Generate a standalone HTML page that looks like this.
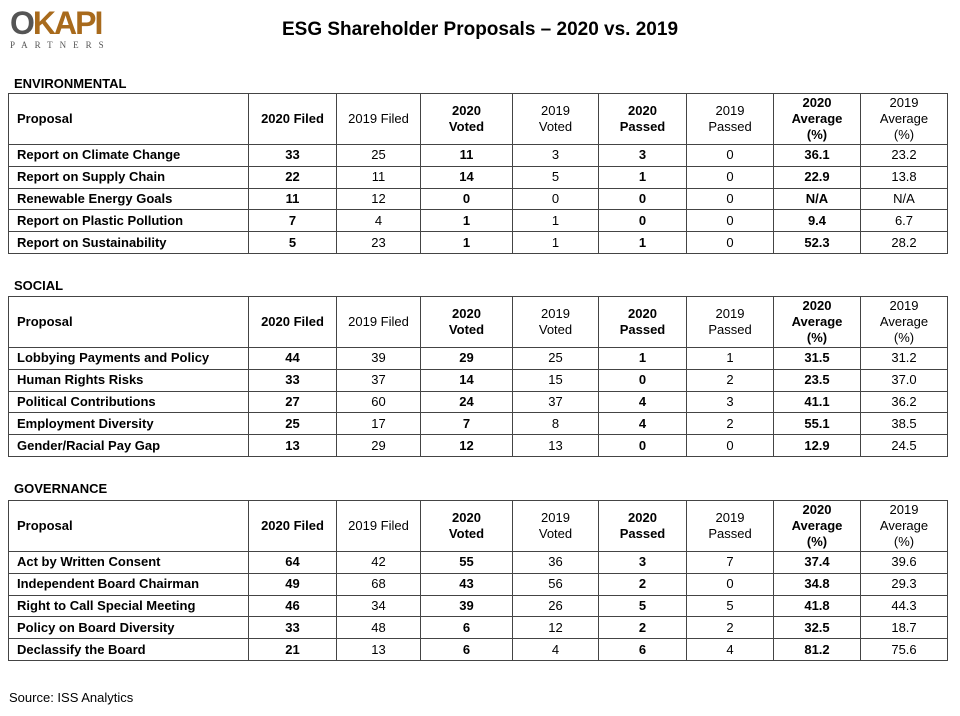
<!DOCTYPE html>
<html><head><meta charset="utf-8"><style>
body{margin:0;width:960px;height:716px;background:#fff;font-family:"Liberation Sans",Arial,sans-serif;color:#000;position:relative;overflow:hidden}
.t{position:absolute;left:8px;border-collapse:collapse;table-layout:fixed;width:939px;font-size:13px}
.t td{border:1px solid #444;text-align:center;padding:0;height:20.8px;line-height:14px}
.t tr.h td{height:50px;line-height:16px}
.t td:first-child{text-align:left;padding-left:8px;font-weight:bold}
.t td.b{font-weight:bold}
.sec{position:absolute;left:14px;font-size:13px;font-weight:bold}
</style></head><body>
<div style="position:absolute;left:10px;top:6px;font-size:32px;font-weight:bold;color:#a86a1c;letter-spacing:-2px;line-height:34px"><span style="color:#555">O</span>KAPI</div>
<div style="position:absolute;left:10px;top:40px;font-family:'Liberation Serif',serif;font-size:9px;letter-spacing:7px;color:#555">PARTNERS</div>
<div style="position:absolute;left:0;width:960px;top:19px;text-align:center;font-size:19px;font-weight:bold">ESG Shareholder Proposals – 2020 vs. 2019</div>

<div class="sec" style="top:76px">ENVIRONMENTAL</div>
<table class="t" style="top:93px">
<colgroup><col style="width:240px"><col style="width:88px"><col style="width:84px"><col style="width:92px"><col style="width:86px"><col style="width:88px"><col style="width:87px"><col style="width:87px"><col style="width:87px"></colgroup>
<tr class="h"><td>Proposal</td><td class="b">2020 Filed</td><td>2019 Filed</td><td class="b">2020<br>Voted</td><td>2019<br>Voted</td><td class="b">2020<br>Passed</td><td>2019<br>Passed</td><td class="b">2020<br>Average<br>(%)</td><td>2019<br>Average<br>(%)</td></tr>
<tr><td>Report on Climate Change</td><td class="b">33</td><td>25</td><td class="b">11</td><td>3</td><td class="b">3</td><td>0</td><td class="b">36.1</td><td>23.2</td></tr>
<tr><td>Report on Supply Chain</td><td class="b">22</td><td>11</td><td class="b">14</td><td>5</td><td class="b">1</td><td>0</td><td class="b">22.9</td><td>13.8</td></tr>
<tr><td>Renewable Energy Goals</td><td class="b">11</td><td>12</td><td class="b">0</td><td>0</td><td class="b">0</td><td>0</td><td class="b">N/A</td><td>N/A</td></tr>
<tr><td>Report on Plastic Pollution</td><td class="b">7</td><td>4</td><td class="b">1</td><td>1</td><td class="b">0</td><td>0</td><td class="b">9.4</td><td>6.7</td></tr>
<tr><td>Report on Sustainability</td><td class="b">5</td><td>23</td><td class="b">1</td><td>1</td><td class="b">1</td><td>0</td><td class="b">52.3</td><td>28.2</td></tr>
</table>

<div class="sec" style="top:278px">SOCIAL</div>
<table class="t" style="top:296px">
<colgroup><col style="width:240px"><col style="width:88px"><col style="width:84px"><col style="width:92px"><col style="width:86px"><col style="width:88px"><col style="width:87px"><col style="width:87px"><col style="width:87px"></colgroup>
<tr class="h"><td>Proposal</td><td class="b">2020 Filed</td><td>2019 Filed</td><td class="b">2020<br>Voted</td><td>2019<br>Voted</td><td class="b">2020<br>Passed</td><td>2019<br>Passed</td><td class="b">2020<br>Average<br>(%)</td><td>2019<br>Average<br>(%)</td></tr>
<tr><td>Lobbying Payments and Policy</td><td class="b">44</td><td>39</td><td class="b">29</td><td>25</td><td class="b">1</td><td>1</td><td class="b">31.5</td><td>31.2</td></tr>
<tr><td>Human Rights Risks</td><td class="b">33</td><td>37</td><td class="b">14</td><td>15</td><td class="b">0</td><td>2</td><td class="b">23.5</td><td>37.0</td></tr>
<tr><td>Political Contributions</td><td class="b">27</td><td>60</td><td class="b">24</td><td>37</td><td class="b">4</td><td>3</td><td class="b">41.1</td><td>36.2</td></tr>
<tr><td>Employment Diversity</td><td class="b">25</td><td>17</td><td class="b">7</td><td>8</td><td class="b">4</td><td>2</td><td class="b">55.1</td><td>38.5</td></tr>
<tr><td>Gender/Racial Pay Gap</td><td class="b">13</td><td>29</td><td class="b">12</td><td>13</td><td class="b">0</td><td>0</td><td class="b">12.9</td><td>24.5</td></tr>
</table>

<div class="sec" style="top:481px">GOVERNANCE</div>
<table class="t" style="top:500px">
<colgroup><col style="width:240px"><col style="width:88px"><col style="width:84px"><col style="width:92px"><col style="width:86px"><col style="width:88px"><col style="width:87px"><col style="width:87px"><col style="width:87px"></colgroup>
<tr class="h"><td>Proposal</td><td class="b">2020 Filed</td><td>2019 Filed</td><td class="b">2020<br>Voted</td><td>2019<br>Voted</td><td class="b">2020<br>Passed</td><td>2019<br>Passed</td><td class="b">2020<br>Average<br>(%)</td><td>2019<br>Average<br>(%)</td></tr>
<tr><td>Act by Written Consent</td><td class="b">64</td><td>42</td><td class="b">55</td><td>36</td><td class="b">3</td><td>7</td><td class="b">37.4</td><td>39.6</td></tr>
<tr><td>Independent Board Chairman</td><td class="b">49</td><td>68</td><td class="b">43</td><td>56</td><td class="b">2</td><td>0</td><td class="b">34.8</td><td>29.3</td></tr>
<tr><td>Right to Call Special Meeting</td><td class="b">46</td><td>34</td><td class="b">39</td><td>26</td><td class="b">5</td><td>5</td><td class="b">41.8</td><td>44.3</td></tr>
<tr><td>Policy on Board Diversity</td><td class="b">33</td><td>48</td><td class="b">6</td><td>12</td><td class="b">2</td><td>2</td><td class="b">32.5</td><td>18.7</td></tr>
<tr><td>Declassify the Board</td><td class="b">21</td><td>13</td><td class="b">6</td><td>4</td><td class="b">6</td><td>4</td><td class="b">81.2</td><td>75.6</td></tr>
</table>

<div style="position:absolute;left:9px;top:690px;font-size:13px">Source: ISS Analytics</div>
</body></html>
